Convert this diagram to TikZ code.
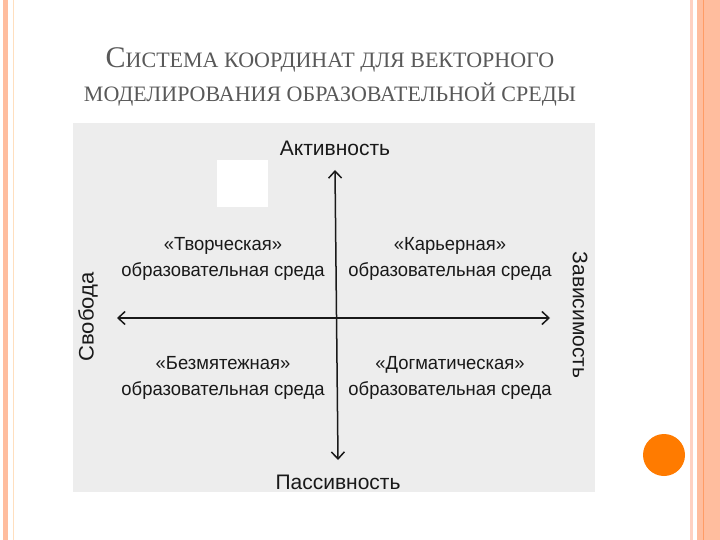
\documentclass[tikz,border=0pt]{standalone}
\usepackage{fontspec}
\setmainfont{Liberation Serif}
\newfontfamily\dsans{Liberation Sans}
\usetikzlibrary{arrows.meta}
\begin{document}
\begin{tikzpicture}[x=1pt,y=-1pt,
  lbl/.style={font=\dsans\fontsize{19}{22}\selectfont,text=black!90,inner sep=0pt},
  big/.style={font=\dsans\fontsize{21}{24}\selectfont,text=black!90,inner sep=0pt},
  ax/.style={line width=1.5pt,black!90,{Straight Barb[length=7pt,width=13pt,line width=1.5pt]}-{Straight Barb[length=7pt,width=13pt,line width=1.5pt]}}]
\useasboundingbox (0,0) rectangle (720,540);
\fill[white] (0,0) rectangle (720,540);
% borders
\fill[orange!30!pink!80!white] (3,0) rectangle (8,540);
\draw[orange!25,line width=0.8pt] (13,0) -- (13,540);
\fill[orange!20!pink!60!white] (690,0) rectangle (693,540);
\fill[orange!30!pink!80!white] (697,0) rectangle (720,540);
\draw[orange!70!red!60,line width=0.8pt] (703,0) -- (703,540);
\fill[orange!85!red!90!yellow] (664,455) circle (21);
% title
\node[text=black!65,font=\fontsize{22}{24}\selectfont] (t1) at (330,60) {{\fontsize{30}{32}\selectfont С}ИСТЕМА КООРДИНАТ ДЛЯ ВЕКТОРНОГО};
\node[text=black!65,font=\fontsize{22}{24}\selectfont] (t2) at (330,95) {МОДЕЛИРОВАНИЯ ОБРАЗОВАТЕЛЬНОЙ СРЕДЫ};
% image
\fill[black!7] (73,123) rectangle (595,492);
\fill[white] (217,160) rectangle (268,207);
\coordinate (top) at (335,170);
\coordinate (bot) at (338,460);
\coordinate (lft) at (117,318);
\coordinate (rgt) at (550,318);
\draw[ax] (bot) -- (top);
\draw[ax] (lft) -- (rgt);
\node[big] (a) at (335,148) {Активность};
\node[big] (p) at (338,482) {Пассивность};
\node[big,rotate=90,xscale=1.05] (s) at (88,317) {Свобода};
\node[big,rotate=-90] (z) at (580,315) {Зависимость};
\node[lbl,align=center,xscale=0.97] (q1) at (223,259) {«Творческая»\\[4pt]образовательная среда};
\node[lbl,align=center,xscale=0.97] (q2) at (450,259) {«Карьерная»\\[4pt]образовательная среда};
\node[lbl,align=center,xscale=0.97] (q3) at (223,378) {«Безмятежная»\\[4pt]образовательная среда};
\node[lbl,align=center,xscale=0.97] (q4) at (450,378) {«Догматическая»\\[4pt]образовательная среда};
\end{tikzpicture}
\end{document}
